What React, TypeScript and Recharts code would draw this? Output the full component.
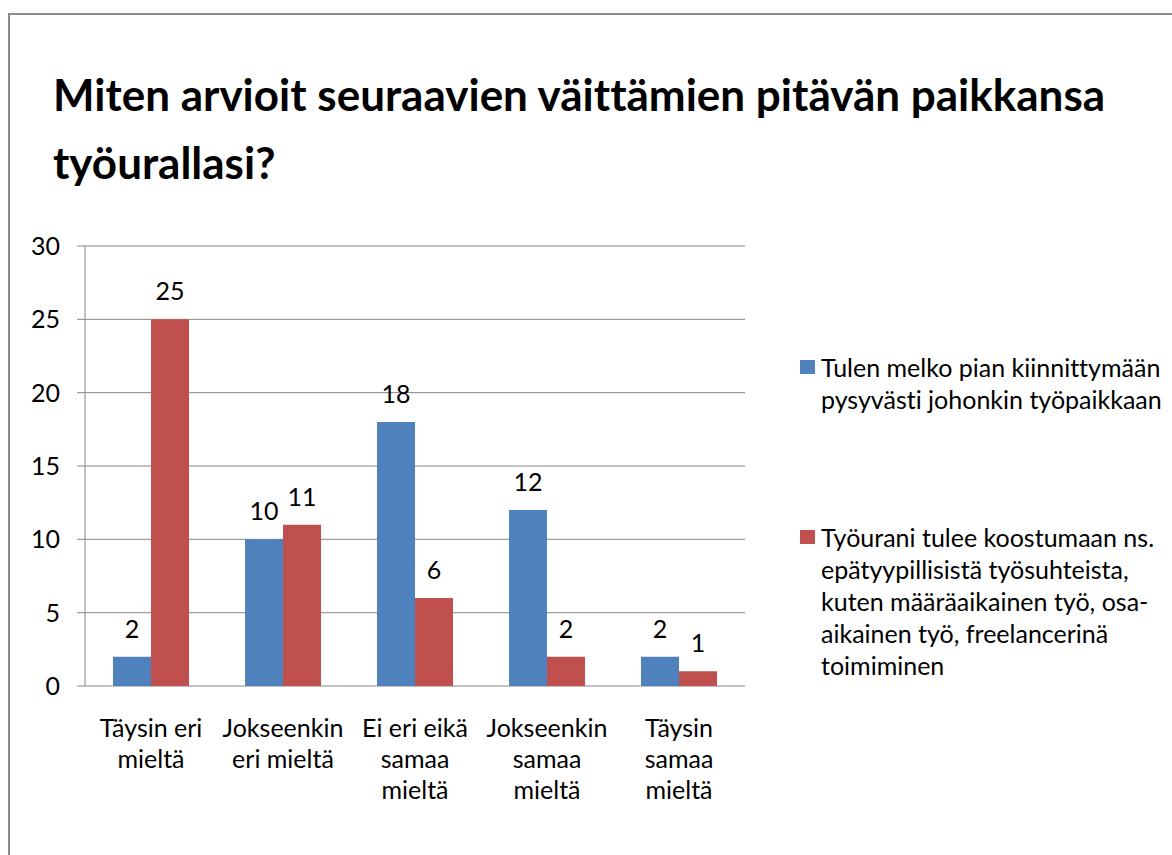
import { BarChart, Bar, XAxis, YAxis, CartesianGrid, LabelList } from "recharts";

const categories = ["Täysin eri mieltä", "Jokseenkin eri mieltä", "Ei eri eikä samaa mieltä", "Jokseenkin samaa mieltä", "Täysin samaa mieltä"];
const tickLines = [
  ["Täysin eri", "mieltä"],
  ["Jokseenkin", "eri mieltä"],
  ["Ei eri eikä", "samaa", "mieltä"],
  ["Jokseenkin", "samaa", "mieltä"],
  ["Täysin", "samaa", "mieltä"],
];
const pysyva = [2, 10, 18, 12, 2];
const epatyypillinen = [25, 11, 6, 2, 1];
const yTicks = [0, 5, 10, 15, 20, 25, 30];
const edgeTicks = [0, 1, 2, 3, 4, 5];

const titleLines = ["Miten arvioit seuraavien väittämien pitävän paikkansa", "työurallasi?"];
const legendItems = [
  { name: "Tulen melko pian kiinnittymään pysyvästi johonkin työpaikkaan", lines: ["Tulen melko pian kiinnittymään", "pysyvästi johonkin työpaikkaan"], color: "#4F81BD" },
  {
    name: "Työurani tulee koostumaan ns. epätyypillisistä työsuhteista, kuten määräaikainen työ, osa-aikainen työ, freelancerinä toimiminen",
    lines: ["Työurani tulee koostumaan ns.", "epätyypillisistä työsuhteista,", "kuten määräaikainen työ, osa-", "aikainen työ, freelancerinä", "toimiminen"],
    color: "#C0504D",
  },
];

const data = categories.map((c, i) => ({ name: c, a: pysyva[i], b: epatyypillinen[i] }));

const FONT = "Lato, 'Open Sans', sans-serif";
const GRID = "#868686";
const FS = 25;

function CatTick(props: any) {
  const { x, y, payload } = props;
  const lines = tickLines[payload.index] ?? [payload.value];
  return (
    <text x={x} y={y} textAnchor="middle" fontSize={FS} fontFamily={FONT} fill="#000" style={{ fontVariantLigatures: "none" }}>
      {lines.map((l, i) => (
        <tspan key={i} x={x} dy={i === 0 ? "0.71em" : 31}>
          {l}
        </tspan>
      ))}
    </text>
  );
}

export default function App() {
  return (
    <div style={{ position: "absolute", left: 0, top: 0, width: 1172, height: 855, background: "#fff", overflow: "hidden", fontFamily: FONT, fontVariantLigatures: "none" }}>
      <div style={{ position: "absolute", left: 8, top: 13, width: 1200, height: 900, border: "2px solid #8c8c8c", boxSizing: "border-box" }} />
      <div style={{ position: "absolute", left: 53, top: 60, fontSize: 44, fontWeight: 700, lineHeight: "68px", color: "#000", whiteSpace: "nowrap" }}>
        {titleLines.map((l) => (
          <div key={l}>{l}</div>
        ))}
      </div>
      <div style={{ position: "absolute", left: 0, top: 0 }}>
        <BarChart
          width={1172}
          height={855}
          data={data}
          margin={{ top: 246, right: 427, left: 25, bottom: 49 }}
          barGap={0}
        >
          <CartesianGrid vertical={false} stroke={GRID} strokeWidth={1} />
          <XAxis
            xAxisId="edges"
            type="number"
            domain={[0, 5]}
            ticks={edgeTicks}
            allowDataOverflow
            height={0}
            tickSize={8}
            stroke={GRID}
            tickFormatter={() => ""}
          />
          <XAxis
            dataKey="name"
            height={120}
            axisLine={false}
            tickLine={false}
            tickSize={6}
            tickMargin={27}
            interval={0}
            tick={<CatTick />}
          />
          <YAxis
            domain={[0, 30]}
            ticks={yTicks}
            width={60}
            tickSize={8}
            tickMargin={17}
            stroke={GRID}
            tick={{ fill: "#000", fontSize: FS, fontFamily: FONT }}
          />
          <Bar dataKey="a" name={legendItems[0].name} fill="#4F81BD" barSize={38} isAnimationActive={false}>
            <LabelList dataKey="a" position="top" offset={19} fill="#000" fontSize={FS} fontFamily={FONT} />
          </Bar>
          <Bar dataKey="b" name={legendItems[1].name} fill="#C0504D" barSize={38} isAnimationActive={false}>
            <LabelList dataKey="b" position="top" offset={19} fill="#000" fontSize={FS} fontFamily={FONT} />
          </Bar>
        </BarChart>
      </div>
      {legendItems.map((it, k) => (
        <div key={k} style={{ position: "absolute", left: 800, top: k === 0 ? 351 : 521, display: "flex", alignItems: "flex-start" }}>
          <div style={{ width: 15, height: 14, background: it.color, marginTop: 9, marginRight: 6 }} />
          <div style={{ fontSize: FS, lineHeight: "32px", color: "#000", whiteSpace: "nowrap" }}>
            {it.lines.map((l) => (
              <div key={l}>{l}</div>
            ))}
          </div>
        </div>
      ))}
    </div>
  );
}
